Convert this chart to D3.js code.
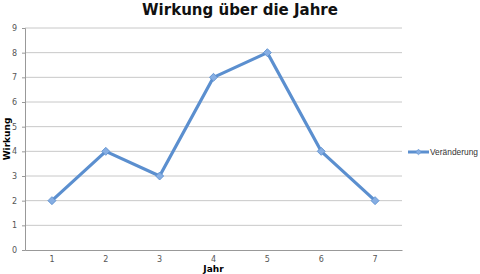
<!DOCTYPE html>
<html>
<head>
<meta charset="utf-8">
<script src="https://cdn.jsdelivr.net/npm/d3@7"></script>
<style>
  body { margin: 0; background: #fff; }
  svg { display: block; }
  text { font-family: "DejaVu Sans", Verdana, sans-serif; }
</style>
</head>
<body>
<script>
// data
var years = [1, 2, 3, 4, 5, 6, 7];
var values = [2, 4, 3, 7, 8, 4, 2];
var yTicks = [0, 1, 2, 3, 4, 5, 6, 7, 8, 9];
var seriesName = "Veränderung";

var W = 480, H = 274;
var m = { left: 25, right: 78, top: 28, bottom: 24 };
var lineColor = "#5b8fcf", markFill = "#86aee3";

var svg = d3.select("body").append("svg").attr("width", W).attr("height", H);

var x = d3.scaleBand().domain(years).range([m.left, W - m.right]);
var y = d3.scaleLinear().domain([0, 9]).range([H - m.bottom, m.top]);

// gridlines
svg.append("g").selectAll("line").data(yTicks.filter(d => d > 0)).join("line")
  .attr("x1", m.left).attr("x2", W - m.right)
  .attr("y1", d => y(d)).attr("y2", d => y(d))
  .attr("stroke", "#c8c8c8").attr("stroke-width", 1);

// y axis
var gy = svg.append("g").attr("transform", "translate(" + m.left + ",0)")
  .call(d3.axisLeft(y).tickValues(yTicks).tickSize(3).tickPadding(5));
gy.select(".domain").attr("stroke", "#999");
gy.selectAll(".tick line").attr("stroke", "#999");
gy.selectAll("text").attr("fill", "#555").style("font-size", "8px");

// x axis
var gx = svg.append("g").attr("transform", "translate(0," + (H - m.bottom) + ")")
  .call(d3.axisBottom(x).tickSize(0).tickPadding(6));
gx.select(".domain").attr("stroke", "#999");
gx.selectAll("text").attr("fill", "#555").style("font-size", "8px");

// line
var line = d3.line().x((d, i) => x(years[i]) + x.bandwidth() / 2).y(d => y(d));
svg.append("path").datum(values)
  .attr("d", line).attr("fill", "none")
  .attr("stroke", lineColor).attr("stroke-width", 3.2).attr("stroke-linejoin", "round");

// diamond markers = squares turned 45deg
var diamond = d3.symbol().type(d3.symbolSquare).size(32);
svg.append("g").selectAll("path").data(values).join("path")
  .attr("d", diamond)
  .attr("transform", (d, i) => "translate(" + (x(years[i]) + x.bandwidth() / 2) + "," + y(d) + ") rotate(45)")
  .attr("fill", markFill).attr("stroke", lineColor).attr("stroke-width", 0.8);

// title and axis titles
svg.append("text").attr("x", 240).attr("y", 15).attr("text-anchor", "middle")
  .style("font-size", "15px").style("font-weight", "bold").attr("fill", "#111").text("Wirkung über die Jahre");
svg.append("text").attr("x", (m.left + W - m.right) / 2).attr("y", 272).attr("text-anchor", "middle")
  .style("font-size", "9px").style("font-weight", "bold").text("Jahr");
svg.append("text").attr("transform", "translate(10," + ((m.top + H - m.bottom) / 2) + ") rotate(-90)")
  .attr("text-anchor", "middle").style("font-size", "9px").style("font-weight", "bold").text("Wirkung");

// legend
var lg = svg.append("g").attr("transform", "translate(408,152)");
lg.append("line").attr("x1", 0).attr("x2", 21).attr("stroke", lineColor).attr("stroke-width", 3);
lg.append("path").attr("d", d3.symbol().type(d3.symbolSquare).size(16)).attr("transform", "translate(10.5,0) rotate(45)")
  .attr("fill", markFill).attr("stroke", lineColor).attr("stroke-width", 0.6);
lg.append("text").attr("x", 22).attr("y", 3).attr("fill", "#333")
  .style("font-family", "'Liberation Sans', Arial, sans-serif").style("font-size", "8.4px").text(seriesName);
</script>
</body>
</html>
